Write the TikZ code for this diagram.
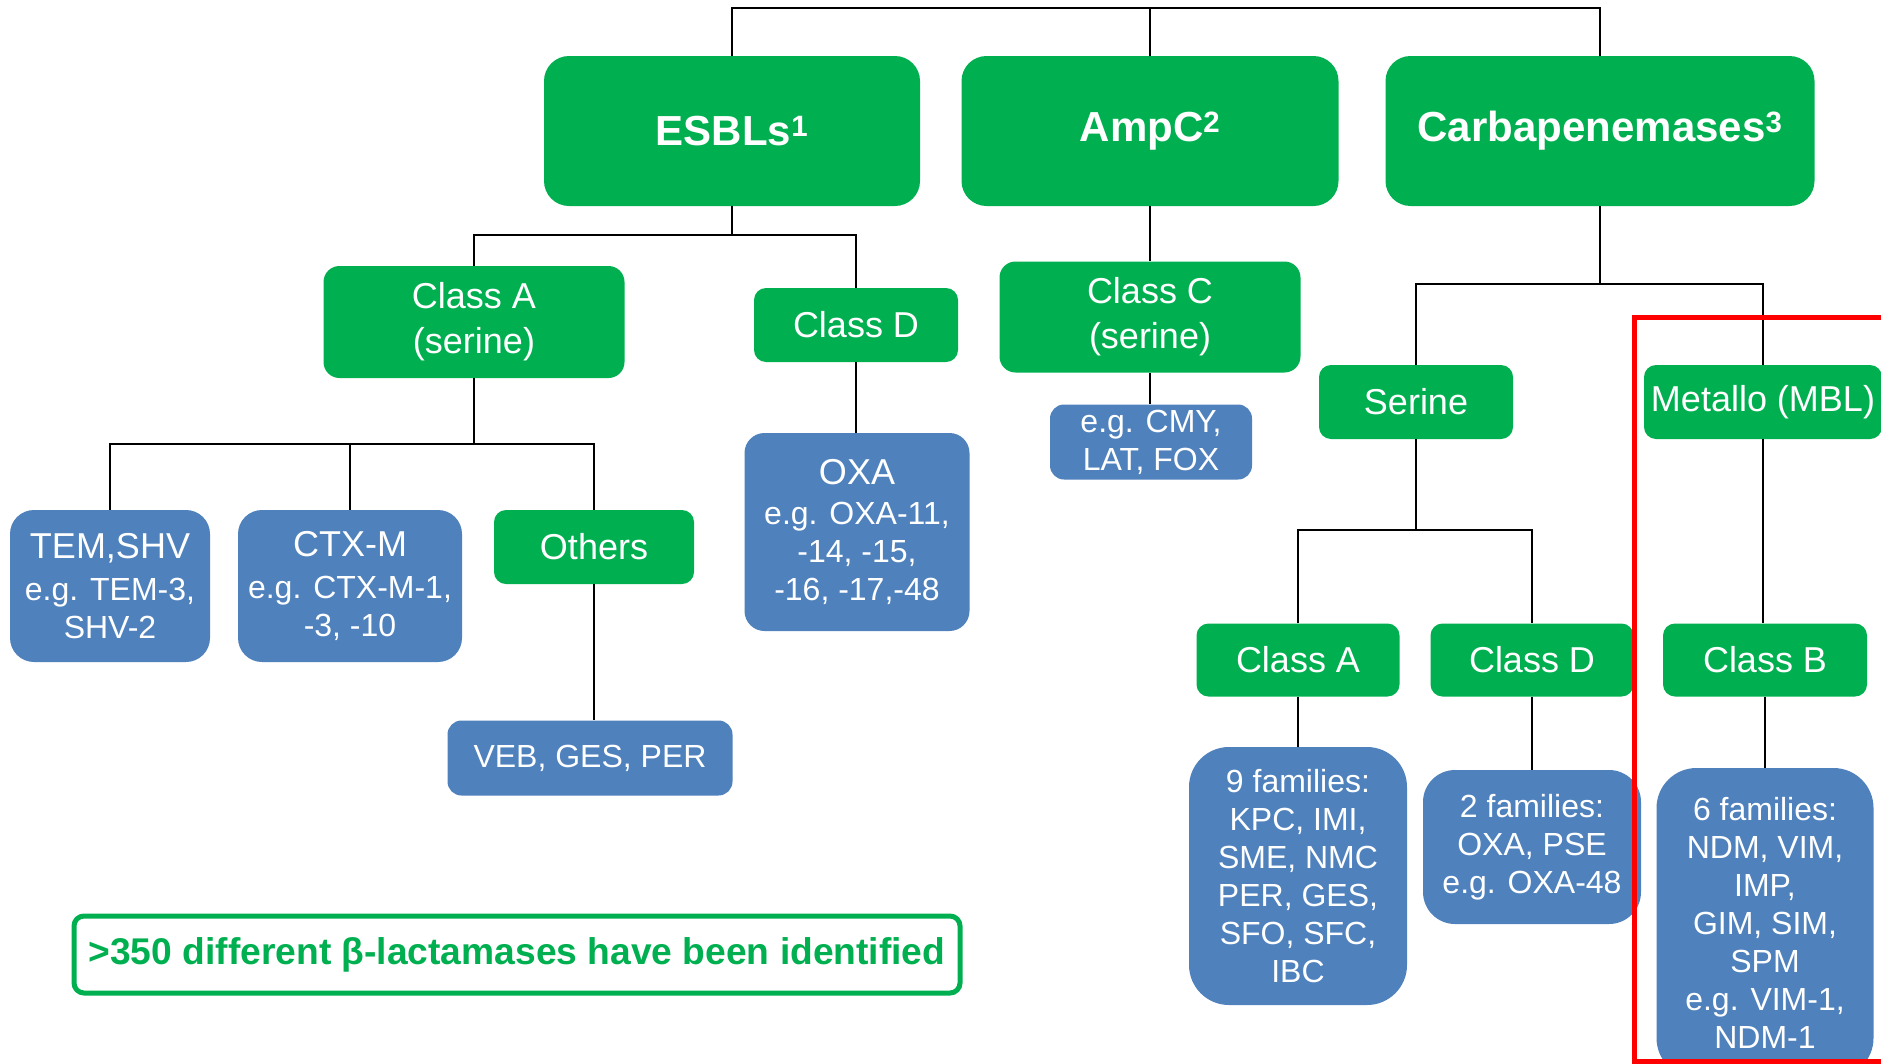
\documentclass[tikz,border=0pt]{standalone}
\usepackage{fontspec}
\setmainfont{Liberation Sans}
\definecolor{gr}{HTML}{00B050}
\definecolor{bl}{HTML}{4F81BD}
\begin{document}
\begin{tikzpicture}[x=1pt,y=-1pt,
  conn/.style={draw=black,line width=2pt},
  gbox/.style={fill=gr,text=white,align=center,inner sep=0pt,rounded corners=#1},
  gbox/.default=14pt,
  bbox/.style={fill=bl,text=white,align=center,inner sep=0pt,rounded corners=#1},
  bbox/.default=18pt,
  topf/.style={font=\bfseries\fontsize{42}{50}\selectfont},
  midf/.style={font=\fontsize{36}{45}\selectfont},
  bluef/.style={font=\fontsize{32}{38}\selectfont}]
\useasboundingbox (0,0) rectangle (1881,1063);
\fill[white] (0,0) rectangle (1881,1063);

% top level
\node[gbox=25pt,topf,minimum width=376pt,minimum height=150pt] (esbl) at (732,131) {ESBLs\textsuperscript{1}};
\node[gbox=25pt,topf,minimum width=377pt,minimum height=150pt] (ampc) at (1150,131) {AmpC\textsuperscript{2}};
\node[gbox=25pt,topf,minimum width=429pt,minimum height=150pt] (carba) at (1600,131) {Carbapenemases\textsuperscript{3}};

% ESBL branch
\node[gbox=16pt,midf,minimum width=301pt,minimum height=112pt] (clA) at (474,322) {Class A\\(serine)};
\node[gbox=12pt,midf,minimum width=204pt,minimum height=74pt] (clD) at (856,325) {Class D};
\node[bbox=24pt,bluef,minimum width=200pt,minimum height=152pt] (tem) at (110,586) {{\fontsize{36}{38}\selectfont TEM,SHV}\\[4pt]e.g. TEM-3,\\SHV-2};
\node[bbox=24pt,bluef,minimum width=224pt,minimum height=152pt] (ctx) at (350,586) {{\fontsize{36}{38}\selectfont CTX-M}\\[4pt]e.g. CTX-M-1,\\-3, -10};
\node[gbox=12pt,midf,minimum width=200pt,minimum height=74pt] (oth) at (594,547) {Others};
\node[bbox=14pt,bluef,minimum width=285pt,minimum height=75pt] (veb) at (590,758) {VEB, GES, PER};
\node[bbox=20pt,bluef,minimum width=225pt,minimum height=198pt] (oxa) at (857,532) {{\fontsize{36}{38}\selectfont OXA}\\[2pt]e.g. OXA-11,\\-14, -15,\\-16, -17,-48};

% AmpC branch
\node[gbox=16pt,midf,minimum width=301pt,minimum height=111pt] (clC) at (1150,317) {Class C\\(serine)};
\node[bbox=14pt,bluef,minimum width=202pt,minimum height=75pt] (cmy) at (1151,442) {e.g. CMY,\\LAT, FOX};

% Carbapenemase branch
\node[gbox=12pt,midf,minimum width=194pt,minimum height=74pt] (ser) at (1416,402) {Serine};
\node[gbox=12pt,midf,minimum width=238pt,minimum height=74pt] (met) at (1763,402) {Metallo (MBL)};
\node[gbox=12pt,midf,minimum width=203pt,minimum height=73pt] (cA2) at (1298,660) {Class A};
\node[gbox=12pt,midf,minimum width=203pt,minimum height=73pt] (cD2) at (1532,660) {Class D};
\node[gbox=12pt,midf,minimum width=204pt,minimum height=73pt] (cB) at (1765,660) {Class B};
\node[bbox=40pt,bluef,minimum width=218pt,minimum height=258pt] (f9) at (1298,876) {9 families:\\KPC, IMI,\\SME, NMC\\PER, GES,\\SFO, SFC,\\IBC};
\node[bbox=32pt,bluef,minimum width=218pt,minimum height=154pt] (f2) at (1532,847) {2 families:\\OXA, PSE\\e.g. OXA-48};
\node[bbox=40pt,bluef,minimum width=217pt,minimum height=310pt] (f6) at (1765,923) {6 families:\\NDM, VIM,\\IMP,\\GIM, SIM,\\SPM\\e.g. VIM-1,\\NDM-1};

% connectors
\coordinate (tp) at (1150,8);
\draw[conn] (esbl.north) |- (tp) -| (carba.north);
\draw[conn] (ampc.north) -- (ampc.north |- tp);

\coordinate (bE) at (732,235);
\draw[conn] (esbl.south) -- (bE);
\draw[conn] (clA.north) |- (bE) -| (clD.north);

\coordinate (bA) at (474,444);
\draw[conn] (clA.south) -- (bA);
\draw[conn] (tem.north) |- (bA) -| (oth.north);
\draw[conn] (ctx.north) -- (ctx.north |- bA);
\draw[conn] (oth.south) -- (oth.south |- veb.north);
\draw[conn] (clD.south) -- (clD.south |- oxa.north);

\draw[conn] (ampc.south) -- (ampc.south |- clC.north);
\draw[conn] (clC.south) -- (clC.south |- cmy.north);

\coordinate (bC) at (1600,284);
\draw[conn] (carba.south) -- (bC);
\draw[conn] (ser.north) |- (bC) -| (met.north);
\coordinate (bS) at (1416,530);
\draw[conn] (ser.south) -- (bS);
\draw[conn] (cA2.north) |- (bS) -| (cD2.north);
\draw[conn] (met.south) -- (met.south |- cB.north);
\draw[conn] (cA2.south) -- (cA2.south |- f9.north);
\draw[conn] (cD2.south) -- (cD2.south |- f2.north);
\draw[conn] (cB.south) -- (cB.south |- f6.north);

% note
\node[draw=gr,line width=5pt,rounded corners=10pt,fill=white,text=gr,minimum width=886pt,minimum height=77pt,inner sep=0pt,font=\bfseries\fontsize{37.2}{40}\selectfont] (note) at (517,954.5) {>350 different β-lactamases have been identified};

% red highlight
\draw[red,line width=5pt] (1634,317) rectangle (1910,1061);
\end{tikzpicture}
\end{document}
